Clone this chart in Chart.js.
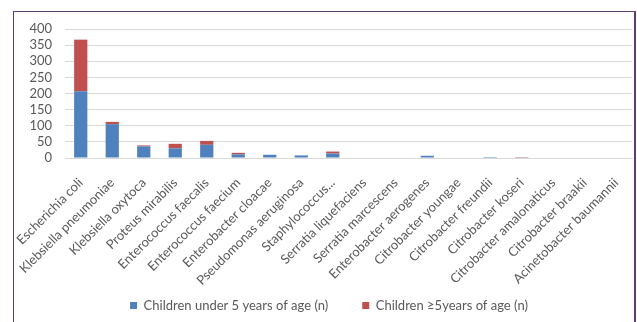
<!DOCTYPE html>
<html>
<head>
<meta charset="utf-8">
<script src="https://cdn.jsdelivr.net/npm/chart.js@4.4.1/dist/chart.umd.min.js"></script>
<style>
  html, body { margin: 0; padding: 0; background: #ffffff; width: 637px; height: 322px; overflow: hidden; }
  #wrap { position: relative; width: 637px; height: 322px; }
  #c { position: absolute; left: 0; top: 0; }
  #frame { position: absolute; left: 13px; top: 11px; width: 620px; height: 400px;
           border-left: 1px solid #5e3d6c; border-top: 1px solid #5e3d6c; border-right: 2px solid #5e3d6c;
           pointer-events: none; }
</style>
</head>
<body>
<div id="wrap">
  <canvas id="c" width="637" height="322"></canvas>
  <div id="frame"></div>
</div>
<script>
const categories = [
  "Escherichia coli", "Klebsiella pneumoniae", "Klebsiella oxytoca", "Proteus mirabilis",
  "Enterococcus faecalis", "Enterococcus faecium", "Enterobacter cloacae", "Pseudomonas aeruginosa",
  "Staphylococcus...", "Serratia liquefaciens", "Serratia marcescens", "Enterobacter aerogenes",
  "Citrobacter youngae", "Citrobacter freundii", "Citrobacter koseri", "Citrobacter amalonaticus",
  "Citrobacter braakii", "Acinetobacter baumannii"
];
const under5 = [207, 105, 36, 30, 41, 11, 10, 8, 14, 0, 0, 7, 0, 3, 2, 0, 0, 0];
const over5  = [160, 7, 3, 14, 12, 5, 0, 0, 6, 0, 0, 0, 0, 0, 1, 0, 0, 0];
const seriesNames = ["Children under 5 years of age (n)", "Children \u22655years of age (n)"];
const yTicks = [0, 50, 100, 150, 200, 250, 300, 350, 400];

const FONT = "Lato, 'Open Sans', sans-serif";

// let the rotated category labels run below the x-axis box instead of being clipped
const unclipLabels = {
  id: 'unclipLabels',
  afterLayout(chart) { chart.scales.x.bottom = chart.height; }
};

new Chart(document.getElementById('c'), {
  type: 'bar',
  data: {
    labels: categories,
    datasets: [
      { label: seriesNames[0], data: under5, backgroundColor: '#4f81bd', borderWidth: 0,
        barPercentage: 0.42, categoryPercentage: 1.0 },
      { label: seriesNames[1], data: over5, backgroundColor: '#c0504d', borderWidth: 0,
        barPercentage: 0.42, categoryPercentage: 1.0 }
    ]
  },
  plugins: [unclipLabels],
  options: {
    responsive: false,
    animation: false,
    devicePixelRatio: 1,
    layout: { padding: { left: 26, right: 5, top: 29, bottom: 0 } },
    plugins: {
      tooltip: { enabled: false },
      legend: {
        position: 'bottom',
        labels: {
          boxWidth: 7, boxHeight: 7, padding: 34,
          color: '#595959',
          font: { family: FONT, size: 13 }
        }
      }
    },
    scales: {
      x: {
        stacked: true,
        grid: { display: false },
        border: { display: true, color: '#d9d9d9', width: 1 },
        ticks: {
          color: '#595959', font: { family: FONT, size: 13 },
          minRotation: 45, maxRotation: 45, autoSkip: false, padding: 9
        },
        afterFit: (s) => { s.height = 107; }
      },
      y: {
        stacked: true,
        min: 0, max: 400,
        afterBuildTicks: (s) => { s.ticks = yTicks.map(v => ({ value: v })); },
        grid: { color: '#d9d9d9', lineWidth: 1, drawTicks: false },
        border: { display: false },
        ticks: { color: '#595959', font: { family: FONT, size: 13 }, padding: 13, autoSkip: false },
        afterFit: (s) => { s.width = 39; }
      }
    }
  }
});
</script>
</body>
</html>
